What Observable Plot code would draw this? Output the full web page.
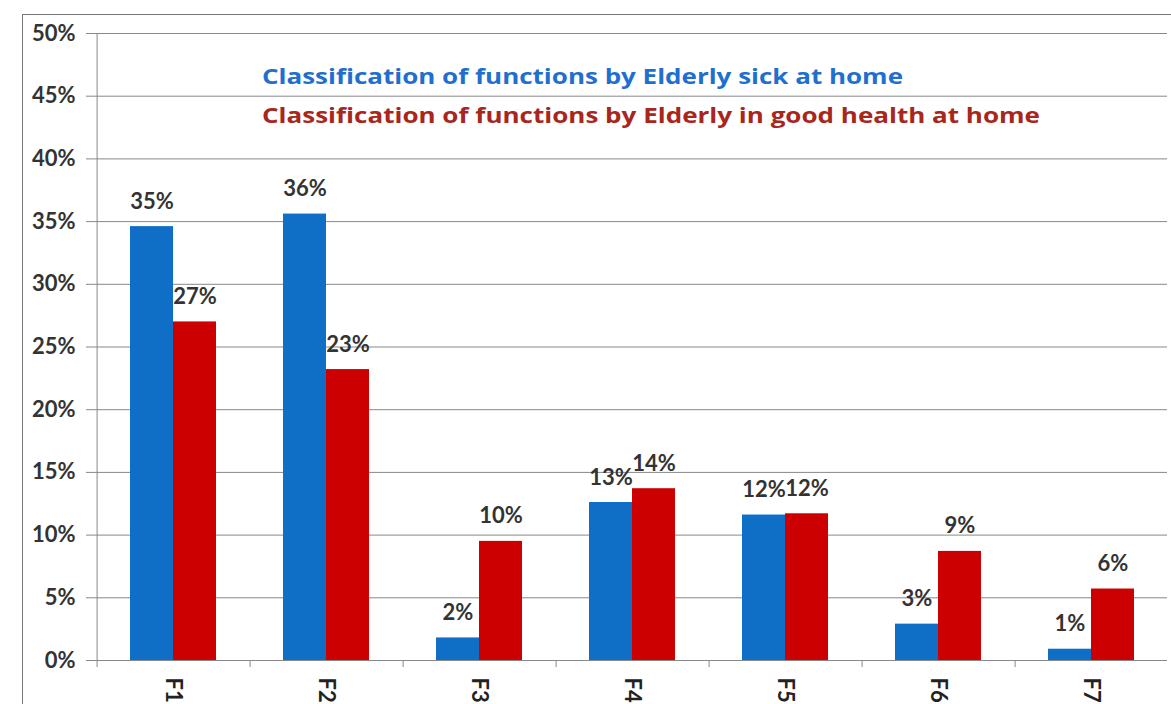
<!DOCTYPE html>
<html><head><meta charset="utf-8">
<script src="https://cdn.jsdelivr.net/npm/d3@7"></script>
<script src="https://cdn.jsdelivr.net/npm/@observablehq/plot@0.6"></script>
<style>
body{margin:0;background:#fff;}
#wrap{position:relative;width:1171px;height:704px;overflow:hidden;font-family:Lato,sans-serif;background:#fff;}
#border{position:absolute;left:22px;top:14px;width:1300px;height:900px;border:1.5px solid #777;box-sizing:border-box;}
#chart{position:absolute;left:0;top:0;}
.leg{position:absolute;left:262px;font-family:"Open Sans",sans-serif;font-weight:bold;font-size:21px;white-space:nowrap;line-height:26px;transform-origin:0 50%;}
</style></head><body>
<div id="wrap"><div id="border"></div><div id="chart"></div>
<div class="leg" id="l1"></div><div class="leg" id="l2"></div></div>
<script>
const categories = ["F1", "F2", "F3", "F4", "F5", "F6", "F7"];
const seriesKeys = ["sick", "good"];
const seriesNames = [
  "Classification of functions by Elderly sick at home",
  "Classification of functions by Elderly in good health at home"
];
const sickValues = [0.346, 0.356, 0.018, 0.126, 0.116, 0.029, 0.009];
const goodValues = [0.270, 0.232, 0.095, 0.137, 0.117, 0.087, 0.057];
const yTicks = [0, 0.05, 0.10, 0.15, 0.20, 0.25, 0.30, 0.35, 0.40, 0.45, 0.50];
const barColors = ["#0f6fc6", "#cc0000"];
const legendColors = ["#1f6fd0", "#a8261c"];

const rows = [];
categories.forEach((c, i) => {
  rows.push({cat: c, series: "sick", value: sickValues[i]});
  rows.push({cat: c, series: "good", value: goodValues[i]});
});
const pct = d3.format(".0%");
const fmt = v => pct(Math.round(v * 100) / 100);

const plot = Plot.plot({
  width: 1171, height: 704,
  marginLeft: 95, marginTop: 33, marginBottom: 44, marginRight: 3,
  style: {fontFamily: "Lato, sans-serif", fontWeight: "bold", fontSize: "22px", color: "#333", background: "transparent"},
  fx: {domain: categories, padding: 0, label: null, axis: null},
  x: {domain: seriesKeys, paddingInner: 0, paddingOuter: 0.76, axis: null},
  y: {domain: [0, 0.5], axis: null},
  color: {domain: seriesKeys, range: barColors},
  marks: [
    Plot.gridY(yTicks, {stroke: "#888", strokeOpacity: 1}),
    Plot.axisY(yTicks, {tickFormat: pct, tickSize: 10, tickPadding: 11, stroke: "#888", fill: "#333", label: null}),
    Plot.ruleX([{cat: "F1"}], {fx: "cat", x: () => "sick", dx: -54.9, y1: 0, y2: 0.5, stroke: "#888"}),
    Plot.ruleX(["sick"], {x: d => d, y1: 0, y2: 0, insetBottom: -7, dx: -54.9, stroke: "#888"}),
    Plot.barY(rows, {fx: "cat", x: "series", y: "value", fill: "series"}),
    Plot.text(rows, {fx: "cat", x: "series", y: "value", text: d => fmt(d.value), dy: -25, fill: "#333"}),
    Plot.axisFx({anchor: "bottom", tickSize: 0, tickPadding: 17, tickRotate: 90, label: null, fill: "#222", fontSize: 22})
  ]
});
document.getElementById("chart").appendChild(plot);

const targets = [641, 778];
["l1", "l2"].forEach((id, i) => {
  const el = document.getElementById(id);
  el.textContent = seriesNames[i];
  el.style.color = legendColors[i];
  el.style.top = (i === 0 ? 63 : 102) + "px";
  const w = el.getBoundingClientRect().width;
  el.style.transform = `scaleX(${targets[i] / w})`;
});
</script>
</body></html>
